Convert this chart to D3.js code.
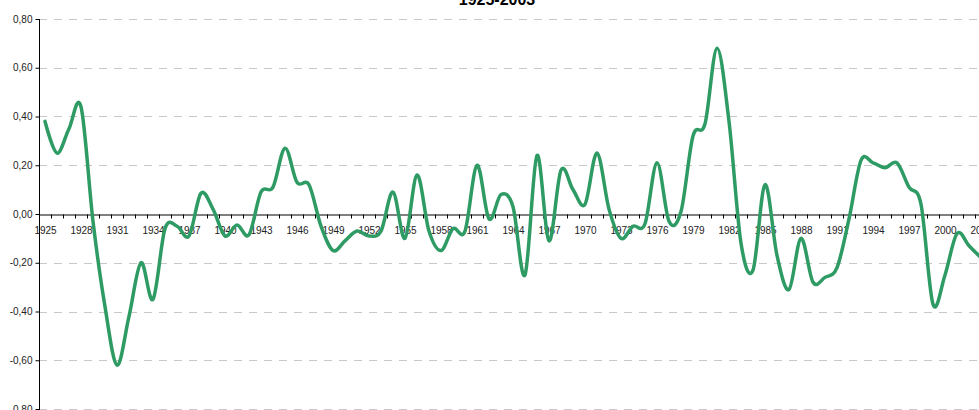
<!DOCTYPE html>
<html>
<head>
<meta charset="utf-8">
<script src="https://cdn.jsdelivr.net/npm/d3@7"></script>
<style>
  body { margin: 0; background: #fff; }
  svg { display: block; font-family: "Liberation Sans", Arial, sans-serif; }
</style>
</head>
<body>
<div id="chart"></div>
<script>
// yearly values 1925-2003
var years = d3.range(1925, 2004);
var values = [
  0.38, 0.25, 0.35, 0.44, -0.03, -0.38, -0.62, -0.42, -0.20, -0.35,
  -0.06, -0.05, -0.09, 0.085, 0.02, -0.09, -0.045, -0.085, 0.09, 0.11,
  0.27, 0.13, 0.12, -0.05, -0.15, -0.11, -0.07, -0.09, -0.07, 0.09,
  -0.10, 0.16, -0.07, -0.15, -0.06, -0.07, 0.20, -0.02, 0.08, 0.03,
  -0.25, 0.24, -0.11, 0.18, 0.10, 0.04, 0.25, 0.02, -0.10, -0.05,
  -0.04, 0.21, -0.03, 0.01, 0.32, 0.37, 0.68, 0.38, -0.12, -0.23,
  0.12, -0.17, -0.31, -0.10, -0.28, -0.26, -0.22, -0.02, 0.22, 0.21,
  0.19, 0.21, 0.11, 0.04, -0.37, -0.25, -0.08, -0.13, -0.18
];
var yTicks = [-0.8, -0.6, -0.4, -0.2, 0, 0.2, 0.4, 0.6, 0.8];
var labelYears = d3.range(1925, 2004, 3);
var title = "1925-2003";

var svgWidth = 979;
var svgHeight = 410;

var svg = d3.select("#chart")
  .append("svg")
  .attr("width", svgWidth)
  .attr("height", svgHeight);

var locale = d3.formatLocale({decimal: ",", thousands: ".", grouping: [3], currency: ["", ""], minus: "-"});
var fmt = locale.format(".2f");

var x = d3.scaleLinear()
  .domain([1924.5, 2003.5])
  .range([39, 987]);

var y = d3.scaleLinear()
  .domain([-0.8, 0.8])
  .range([409, 19]);

// dashed gridlines
svg.append("g")
  .selectAll("line")
  .data(yTicks.filter(d => d !== 0))
  .enter()
  .append("line")
  .attr("x1", 39)
  .attr("x2", svgWidth)
  .attr("y1", d => Math.round(y(d)) + 0.5)
  .attr("y2", d => Math.round(y(d)) + 0.5)
  .attr("stroke", "#c8c8c8")
  .attr("stroke-width", 1)
  .attr("stroke-dasharray", "8,7");

// y axis
var leftAxis = d3.axisLeft(y)
  .tickValues(yTicks)
  .tickSize(4)
  .tickSizeOuter(0)
  .tickPadding(3)
  .tickFormat(fmt);

var yAxisG = svg.append("g")
  .attr("transform", "translate(39.5,0)")
  .call(leftAxis);
yAxisG.select(".domain").attr("stroke", "#000").attr("d", "M0,19V410");
yAxisG.selectAll("text").attr("font-size", "10px").attr("fill", "#222").attr("font-family", "inherit");

// x axis ticks between categories
var tickAxis = d3.axisBottom(x)
  .tickValues(d3.range(1924.5, 2004, 1))
  .tickSize(4)
  .tickSizeOuter(0)
  .tickFormat("");

var y0 = Math.round(y(0)) + 0.5;
svg.append("g")
  .attr("transform", `translate(0,${y0})`)
  .call(tickAxis)
  .select(".domain").attr("stroke", "#000");

// x labels
var labelAxis = d3.axisBottom(x)
  .tickValues(labelYears)
  .tickSize(0)
  .tickPadding(12)
  .tickFormat(d3.format("d"));

var labG = svg.append("g")
  .attr("transform", `translate(0,${y0})`)
  .call(labelAxis);
labG.select(".domain").remove();
labG.selectAll("text").attr("font-size", "10px").attr("fill", "#222").attr("font-family", "inherit");

// series line
var line = d3.line()
  .x((d, i) => x(years[i]))
  .y(d => y(d))
  .curve(d3.curveCardinal);

svg.append("path")
  .datum(values)
  .attr("d", line)
  .attr("fill", "none")
  .attr("stroke", "#2e9b64")
  .attr("stroke-width", 3.5)
  .attr("stroke-linejoin", "round")
  .attr("stroke-linecap", "round");

// title, mostly cut off at the top
svg.append("text")
  .attr("x", 497)
  .attr("y", 4.5)
  .attr("text-anchor", "middle")
  .attr("font-size", "16px")
  .attr("font-weight", "bold")
  .attr("fill", "#000")
  .text(title);
</script>
</body>
</html>
